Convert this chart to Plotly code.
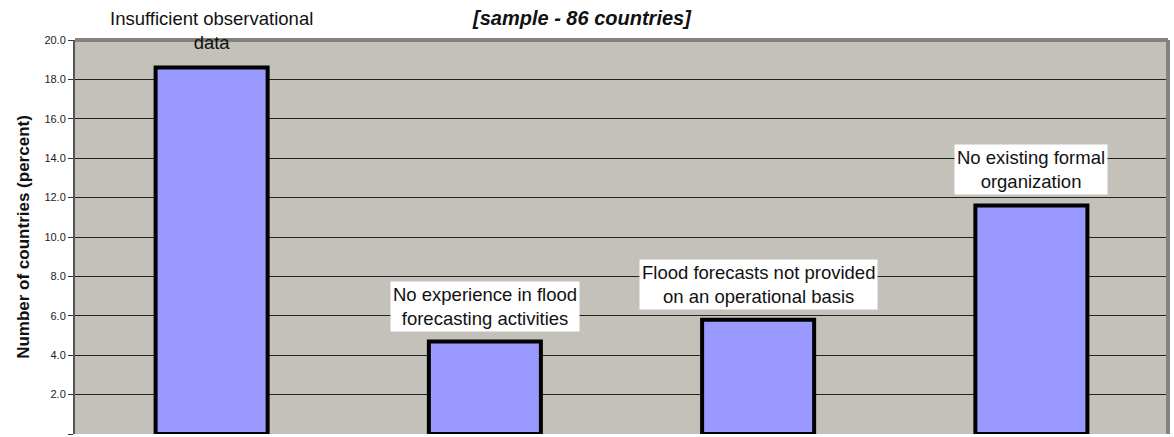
import plotly.graph_objects as go

categories = ["Insufficient observational data",
              "No experience in flood forecasting activities",
              "Flood forecasts not provided on an operational basis",
              "No existing formal organization"]
values = [18.6, 4.7, 5.8, 11.6]
labels = ["Insufficient observational<br>data",
          "No experience in flood<br>forecasting activities",
          "Flood forecasts not provided<br>on an operational basis",
          "No existing formal<br>organization"]
label_y = [20.5, 6.45, 7.6, 13.45]
label_bg = [None, "white", "white", "white"]
tick_vals = [0, 2, 4, 6, 8, 10, 12, 14, 16, 18, 20]
tick_text = ["0.0", "2.0", "4.0", "6.0", "8.0", "10.0", "12.0", "14.0", "16.0", "18.0", "20.0"]

FONT = "Arial, Liberation Sans, sans-serif"

fig = go.Figure()
fig.add_trace(go.Bar(
    x=categories, y=values, width=0.41,
    marker=dict(color="#9999FF", line=dict(color="black", width=4)),
    cliponaxis=False,
))

for i, (c, t, ly, bg) in enumerate(zip(categories, labels, label_y, label_bg)):
    if ly > 20:
        # above the plotting range: position relative to the plot frame
        fig.add_annotation(
            x=c, y=1 + (ly - 20) / 20, xref="x", yref="paper", yanchor="middle",
            text=t, showarrow=False,
            font=dict(family=FONT, size=18.5, color="#111"),
            bgcolor="rgba(0,0,0,0)", borderpad=2,
        )
    else:
        fig.add_annotation(
            x=c, y=ly, xref="x", yref="y", yanchor="middle", text=t, showarrow=False,
            font=dict(family=FONT, size=18.5, color="#111"),
            bgcolor=bg, borderpad=2,
        )

fig.add_annotation(
    x=0.464, y=1.055, xref="paper", yref="paper", yanchor="middle",
    text="<b><i>[sample - 86 countries]</i></b>", showarrow=False,
    font=dict(family=FONT, size=20, color="#111"),
)

# plot frame borders (top and right) like the spreadsheet chart
fig.add_shape(type="line", xref="paper", yref="paper", x0=0, x1=1.0, y0=1.0, y1=1.0,
              line=dict(color="#858279", width=4))
fig.add_shape(type="line", xref="paper", yref="paper", x0=1.0, x1=1.0, y0=0, y1=1.0,
              line=dict(color="#858279", width=4))

fig.update_layout(
    width=1174, height=437,
    margin=dict(l=75, r=6, t=40, b=3),
    paper_bgcolor="white", plot_bgcolor="#C4C1BA",
    showlegend=False,
    font=dict(family=FONT),
)
fig.update_xaxes(showticklabels=False, showgrid=False, showline=False, zeroline=False,
                 range=[-0.5, 3.5])
fig.update_yaxes(range=[0, 20], tickvals=tick_vals, ticktext=tick_text,
                 showgrid=True, gridcolor="#222", gridwidth=1, zeroline=False,
                 showline=True, linecolor="#555", linewidth=2,
                 ticks="outside", ticklen=5, tickcolor="#333",
                 tickfont=dict(family=FONT, size=11, color="#222"),
                 title=dict(text="<b>Number of countries (percent)</b>",
                            font=dict(family=FONT, size=17, color="#111"), standoff=10))

fig.write_html("out.html")
